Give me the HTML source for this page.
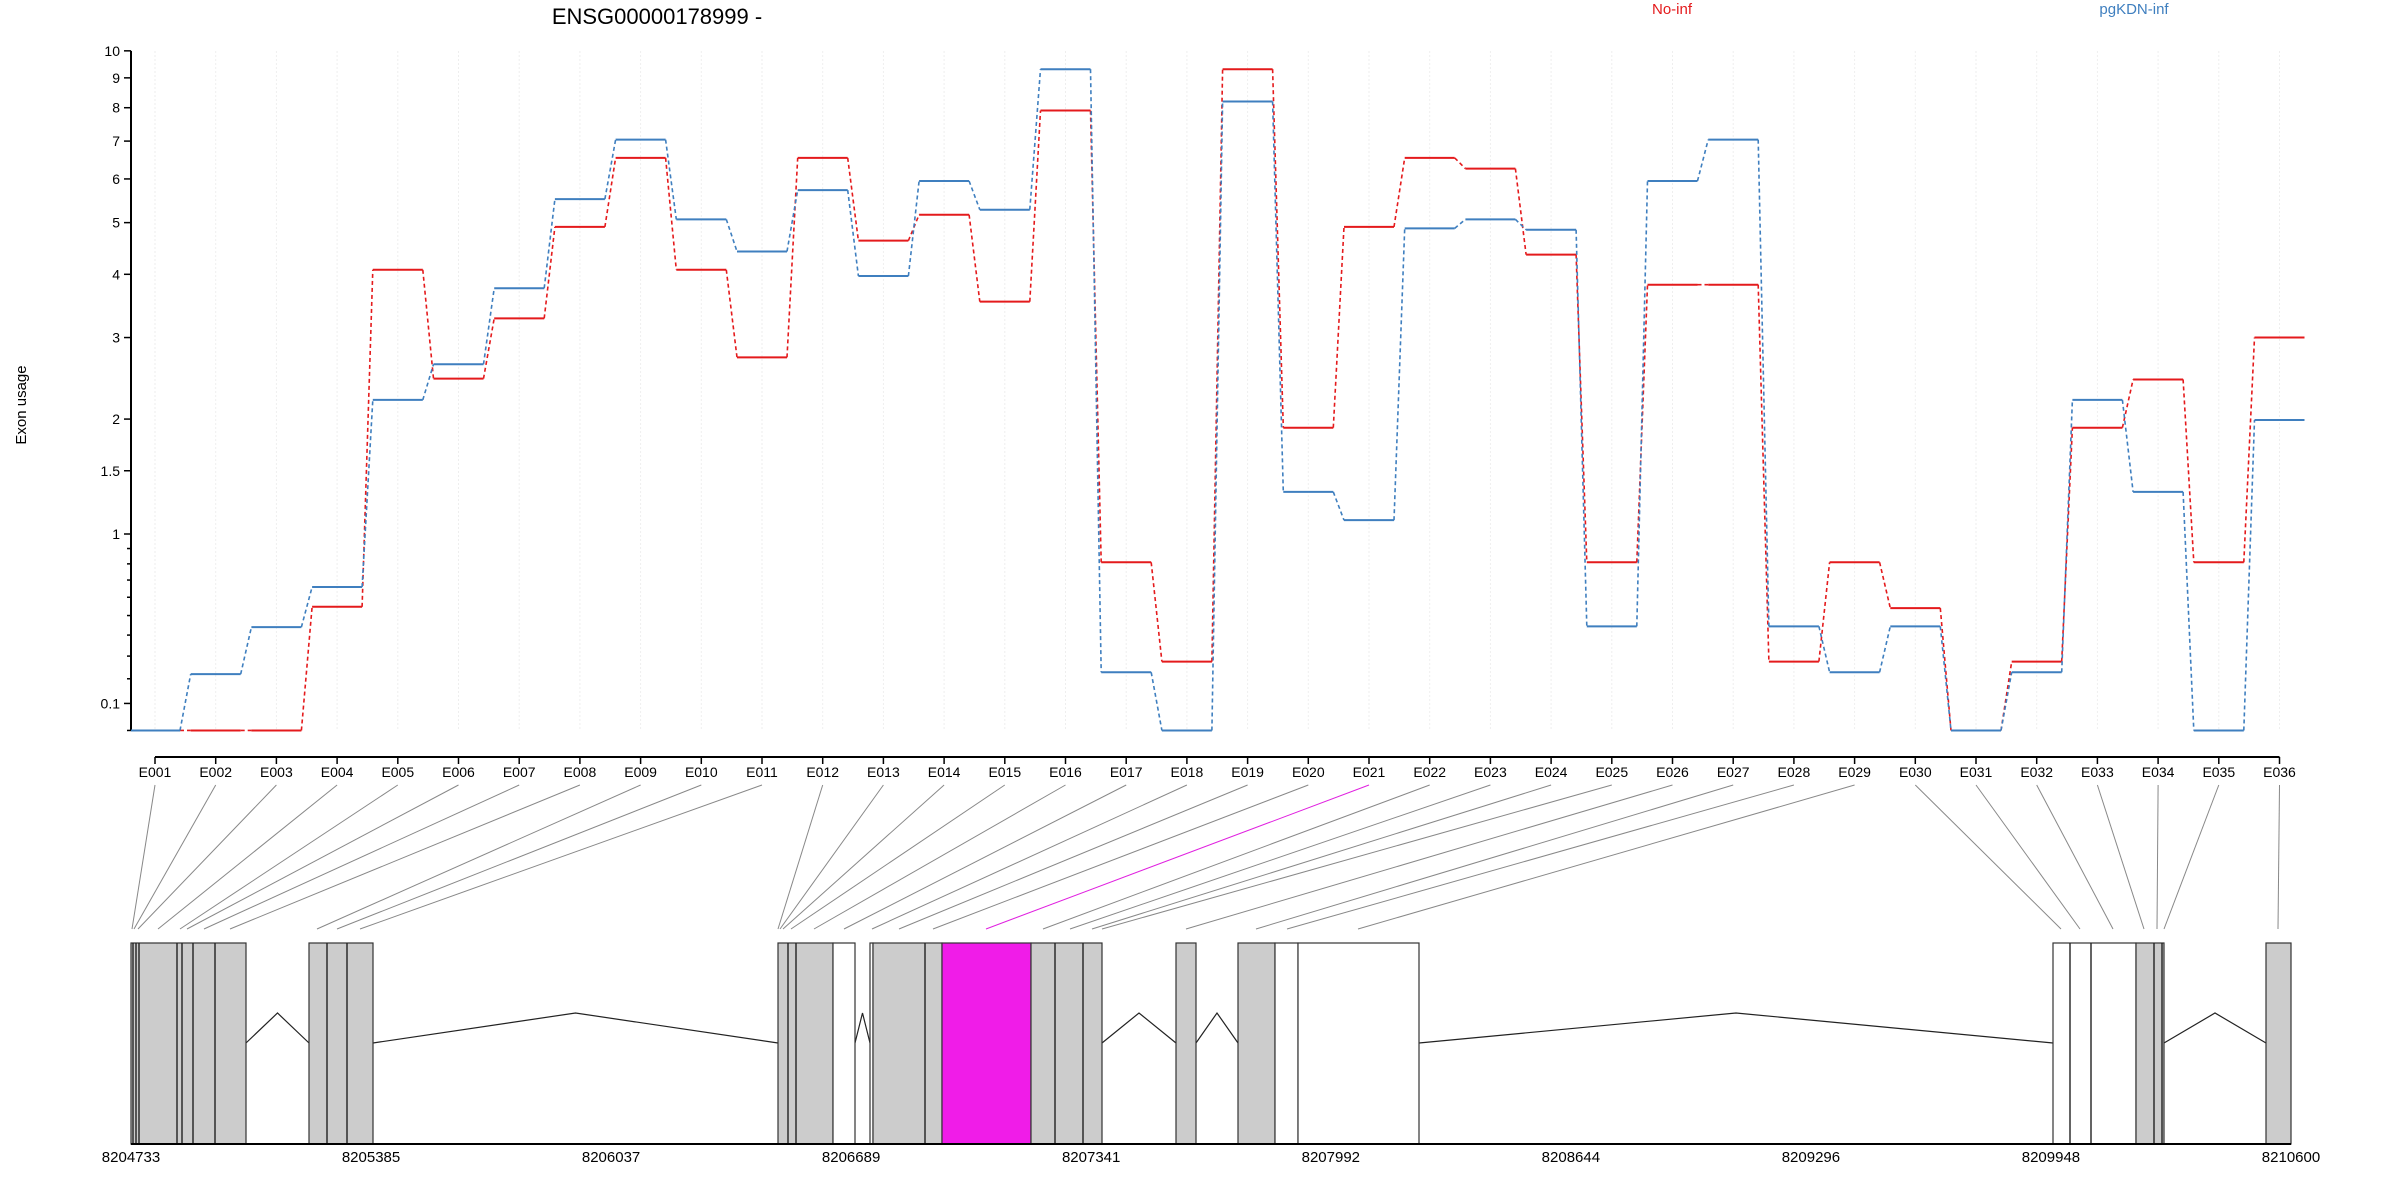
<!DOCTYPE html>
<html><head><meta charset="utf-8"><style>
html,body{margin:0;padding:0;background:#fff;}
svg{display:block;font-family:"Liberation Sans",Arial,sans-serif;}
</style></head>
<body>
<svg id="chart" width="2400" height="1200" viewBox="0 0 2400 1200" xmlns="http://www.w3.org/2000/svg">
<rect x="0" y="0" width="2400" height="1200" fill="#fff"/>
<text x="657" y="24" font-size="22" text-anchor="middle" fill="#000">ENSG00000178999 -</text>
<text x="1672" y="14" font-size="15" text-anchor="middle" fill="#e41a1c">No-inf</text>
<text x="2134" y="14" font-size="15" text-anchor="middle" fill="#3f7fbf">pgKDN-inf</text>
<text x="0" y="0" font-size="15" text-anchor="middle" transform="translate(26,405) rotate(-90)" fill="#000">Exon usage</text>
<g id="grid"></g>
<g id="axes"></g>
<g id="series"></g>
<g id="gene"></g>
</svg>
<script>
const exonLabels = ["E001","E002","E003","E004","E005","E006","E007","E008","E009","E010","E011","E012","E013","E014","E015","E016","E017","E018","E019","E020","E021","E022","E023","E024","E025","E026","E027","E028","E029","E030","E031","E032","E033","E034","E035","E036"];
const noInf = [0,0,0,0.547,4.08,2.46,3.28,4.91,6.54,4.08,2.73,6.54,4.63,5.17,3.54,7.91,0.81,0.275,9.31,1.91,4.91,6.54,6.26,4.36,0.81,3.82,3.82,0.275,0.81,0.54,0,0.275,1.91,2.45,0.81,3.0];
const pgKDN = [0,0.22,0.44,0.659,2.21,2.64,3.76,5.52,7.04,5.07,4.42,5.73,3.97,5.95,5.28,9.31,0.228,0,8.2,1.32,1.10,4.88,5.07,4.85,0.444,5.95,7.04,0.444,0.228,0.444,0,0.228,2.21,1.32,0,1.99];
const yTicks = [10,9,8,7,6,5,4,3,2,1.5,1,0.1];
const yTickLabels = ["10","9","8","7","6","5","4","3","2","1.5","1","0.1"];
const yMinorTicks = [0,0.2,0.3,0.4,0.5,0.6,0.7,0.8,0.9];
const genomicTicks = [8204733,8205385,8206037,8206689,8207341,8207992,8208644,8209296,8209948,8210600];
const exonCoordStart = [8204733,8204748,8204766,8204799,8205052,8205098,8205191,8205339,8205580,8205728,8205908,8206689,8206694,8206715,8206774,8207024,8207265,8207299,8207515,8207698,8207887,8208509,8208707,8208949,8209084,8209737,8209900,8210151,8210347,8209778,8209922,8210096,8210470,8210596,8210648,8210728];

const NS="http://www.w3.org/2000/svg";
function mk(tag,attrs,parent){const e=document.createElementNS(NS,tag);for(const k in attrs)e.setAttribute(k,attrs[k]);parent.appendChild(e);return e;}
// axes functions
const X0=155, DX=60.7;
function xE(i){return X0+i*DX;}
function yV(v){return 534-652.6*(Math.log10(v+1)-Math.log10(2));}
const G0=8204733,G1=8210600,GX0=131,GX1=2291;
function xG(g){return GX0+(g-G0)/(G1-G0)*(GX1-GX0);}

const grid=document.getElementById('grid'), axes=document.getElementById('axes'), series=document.getElementById('series'), gene=document.getElementById('gene');
exonLabels.forEach((l,i)=>{
  const g=mk('line',{x1:xE(i),x2:xE(i),y1:51,y2:730,stroke:'#eeeeee','stroke-width':1,'stroke-dasharray':'2,2'},grid);
  
  
});
// y axis
const ya=mk('line',{x1:131,x2:131,y1:yV(10),y2:yV(0),stroke:'#000','stroke-width':2},axes);


yTicks.forEach((v,i)=>{
  const t=mk('line',{x1:124,x2:131,y1:yV(v),y2:yV(v),stroke:'#000','stroke-width':1.5},axes);
  
  
  const tx=mk('text',{x:120,y:yV(v)+5,'font-size':14,'text-anchor':'end',fill:'#000'},axes);
  tx.textContent=yTickLabels[i];
  
  
});
yMinorTicks.forEach(v=>{
  const t=mk('line',{x1:127,x2:131,y1:yV(v),y2:yV(v),stroke:'#000','stroke-width':1.5},axes);
  
  
});
// x axis
const xa=mk('line',{x1:xE(0),x2:xE(35),y1:757,y2:757,stroke:'#000','stroke-width':2},axes);


exonLabels.forEach((l,i)=>{
  const t=mk('line',{x1:xE(i),x2:xE(i),y1:757,y2:764,stroke:'#000','stroke-width':1.5},axes);
  
  
  const tx=mk('text',{x:xE(i),y:777,'font-size':14,'text-anchor':'middle',fill:'#000'},axes);
  tx.textContent=l;
  
  
});
// series
function drawSeries(vals,color,name){
  const g=mk('g',{},series);
  
  
  vals.forEach((v,i)=>{
    const xs=i===0?131:xE(i)-25, xe=i===35?xE(i)+25:xE(i)+25;
    const s=mk('line',{x1:xs,x2:xe,y1:yV(v),y2:yV(v),stroke:color,'stroke-width':2},g);
    
    
    if(i<vals.length-1){
      const c=mk('line',{x1:xE(i)+25,x2:xE(i+1)-25,y1:yV(v),y2:yV(vals[i+1]),stroke:color,'stroke-width':1.6,'stroke-dasharray':'4,3'},g);
      
      
    }
  });
}
drawSeries(noInf,'#e41a1c','series-no-inf');
drawSeries(pgKDN,'#3f7fbf','series-pgkdn-inf');

// gene model
const boxes=[[131,246,'#cccccc'],[309,373,'#cccccc'],[778,833,'#cccccc'],[833,855,'#ffffff'],[870,873,'#ffffff'],[873,942,'#cccccc'],[942,1031,'#f01ce8'],[1031,1102,'#cccccc'],[1176,1196,'#cccccc'],[1238,1275,'#cccccc'],[1275,1298,'#ffffff'],[1298,1419,'#ffffff'],[2053,2136,'#ffffff'],[2136,2164,'#cccccc'],[2266,2291,'#cccccc']];
const inner=[133,136,139,177,182,193,215,327,347,788,796,925,1055,1083,2070,2091,2154,2162];
const introns=[[246,309],[373,778],[855,870],[1102,1176],[1196,1238],[1419,2053],[2164,2266]];
const ends=[132,134,138,158,180,187,204,230,317,337,360,778,780,783,791,814,844,872,899,933,986,1043,1070,1092,1102,1186,1256,1287,1358,2061,2080,2113,2144,2157,2164,2278];
ends.forEach((ex,i)=>{
  const l=mk('line',{x1:xE(i),y1:785,x2:ex,y2:929,stroke:i===20?'#e020e0':'#888888','stroke-width':1},gene);
  
  
});
introns.forEach(([a,b])=>{
  const p=mk('polyline',{points:`${a},1043 ${(a+b)/2},1013 ${b},1043`,fill:'none',stroke:'#222','stroke-width':1.2},gene);
  
  
});
boxes.forEach(([a,b,c])=>{
  const r=mk('rect',{x:a,y:943,width:b-a,height:201,fill:c,stroke:'#333','stroke-width':1.2},gene);
  
  
});
inner.forEach(x=>{
  const l=mk('line',{x1:x,x2:x,y1:943,y2:1144,stroke:'#222','stroke-width':1.4},gene);
  
  
});
const ga=mk('line',{x1:GX0,x2:GX1,y1:1144,y2:1144,stroke:'#000','stroke-width':2},gene);


genomicTicks.forEach(g=>{
  const t=mk('text',{x:xG(g),y:1162,'font-size':15,'text-anchor':'middle',fill:'#000'},gene);
  t.textContent=String(g);
  
  
});
</script>
</body></html>
